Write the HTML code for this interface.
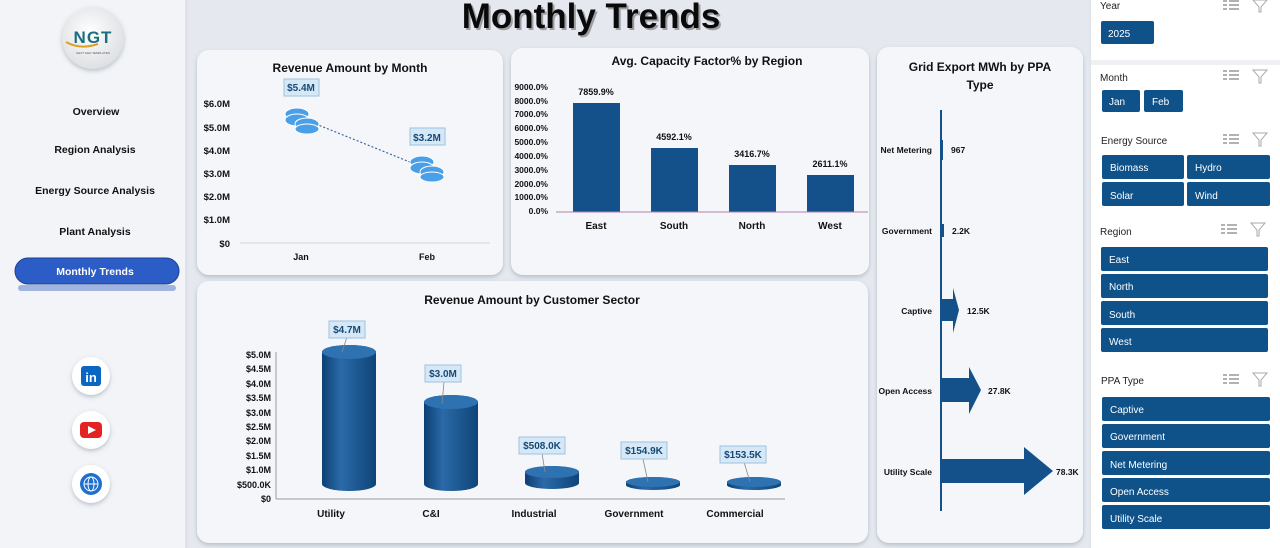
<!DOCTYPE html>
<html><head><meta charset="utf-8"><style>
html,body{margin:0;padding:0;width:1280px;height:548px;overflow:hidden;background:#e5e9ef;}
svg{display:block;font-family:"Liberation Sans",sans-serif;}
</style></head><body>
<svg width="1280" height="548" viewBox="0 0 1280 548" xmlns="http://www.w3.org/2000/svg">
<defs>
<linearGradient id="cyl" x1="0" x2="1" y1="0" y2="0">
<stop offset="0" stop-color="#0d3f73"/><stop offset="0.35" stop-color="#2a6aa8"/><stop offset="1" stop-color="#0f4478"/></linearGradient>
<radialGradient id="logo" cx="0.45" cy="0.4" r="0.7"><stop offset="0" stop-color="#ffffff"/><stop offset="1" stop-color="#d8dade"/></radialGradient>
<filter id="sh" x="-20%" y="-20%" width="140%" height="140%"><feDropShadow dx="0" dy="2" stdDeviation="2" flood-color="#8090a0" flood-opacity="0.5"/></filter>
</defs>
<!-- sidebar -->
<rect x="0" y="0" width="187" height="548" fill="#f2f4f7"/>
<rect x="185" y="0" width="3" height="548" fill="#dfe3e9"/>
<circle cx="93" cy="38" r="31" fill="url(#logo)" filter="url(#sh)"/>
<text x="93" y="43" text-anchor="middle" font-size="17" font-weight="bold" fill="#1b6f80" letter-spacing="1">NGT</text>
<path d="M66 42 Q80 50 98 44" stroke="#e0a020" stroke-width="2" fill="none"/>
<text x="93" y="54" text-anchor="middle" font-size="3" fill="#555">NEXT GEN TEMPLATES</text>
<g font-size="10.5" font-weight="bold" fill="#111" text-anchor="middle">
<text x="96" y="115">Overview</text>
<text x="95" y="153">Region Analysis</text>
<text x="95" y="194">Energy Source Analysis</text>
<text x="95" y="235">Plant  Analysis</text>
</g>
<rect x="18" y="285" width="158" height="6" rx="3" fill="#9fb5e0"/>
<rect x="15" y="258" width="164" height="26" rx="13" fill="#2c5cc5" stroke="#1b3f95"/>
<text x="95" y="275" text-anchor="middle" font-size="10.5" font-weight="bold" fill="#fff">Monthly Trends</text>
<g filter="url(#sh)">
<circle cx="91" cy="376" r="19" fill="#fff"/><circle cx="91" cy="430" r="19" fill="#fff"/><circle cx="91" cy="484" r="19" fill="#fff"/></g>
<rect x="81" y="366" width="20" height="20" rx="3" fill="#0a66c2"/>
<text x="91" y="382" text-anchor="middle" font-size="13" font-weight="bold" fill="#fff">in</text>
<rect x="80" y="422" width="22" height="16" rx="4" fill="#e52222"/>
<path d="M88 426 L96 430 L88 434Z" fill="#fff"/>
<circle cx="91" cy="484" r="11" fill="#1e6fd0"/>
<g stroke="#fff" stroke-width="1" fill="none"><circle cx="91" cy="484" r="7"/><ellipse cx="91" cy="484" rx="3" ry="7"/><line x1="84" y1="484" x2="98" y2="484"/></g>
<!-- title -->
<text x="593" y="30" text-anchor="middle" font-size="35" font-weight="bold" fill="#555" opacity="0.5">Monthly Trends</text>
<text x="591" y="28" text-anchor="middle" font-size="35" font-weight="bold" fill="#0a0a0a">Monthly Trends</text>
<!-- cards -->
<g fill="#f4f6f9" filter="url(#sh)">
<rect x="197" y="50" width="306" height="225" rx="12"/>
<rect x="511" y="48" width="358" height="227" rx="12"/>
<rect x="197" y="281" width="671" height="262" rx="12"/>
<rect x="877" y="47" width="206" height="496" rx="12"/>
</g>
<!-- chart1 -->
<text x="350" y="72" text-anchor="middle" font-size="12" font-weight="bold" fill="#111">Revenue Amount by Month</text>
<g font-size="9.5" font-weight="bold" fill="#111" text-anchor="end">
<text x="230" y="107">$6.0M</text><text x="230" y="131">$5.0M</text><text x="230" y="154">$4.0M</text><text x="230" y="177">$3.0M</text><text x="230" y="200">$2.0M</text><text x="230" y="223">$1.0M</text><text x="230" y="247">$0</text></g>
<line x1="240" y1="243" x2="490" y2="243" stroke="#d0d4da"/>
<g font-size="9" font-weight="bold" fill="#111" text-anchor="middle"><text x="301" y="260">Jan</text><text x="427" y="260">Feb</text></g>
<line x1="301" y1="118" x2="427" y2="169" stroke="#2a5a9a" stroke-dasharray="2 2"/>
<g fill="#4aa0e8" stroke="#fff" stroke-width="1">
<ellipse cx="297" cy="114" rx="12" ry="6"/><ellipse cx="297" cy="120" rx="12" ry="6"/><ellipse cx="307" cy="124" rx="12" ry="6"/><ellipse cx="307" cy="129" rx="12" ry="5"/>
<ellipse cx="422" cy="162" rx="12" ry="6"/><ellipse cx="422" cy="168" rx="12" ry="6"/><ellipse cx="432" cy="172" rx="12" ry="6"/><ellipse cx="432" cy="177" rx="12" ry="5"/></g>
<rect x="284" y="79" width="35" height="17" fill="#d6e8f6" stroke="#9ec3e3"/>
<text x="301" y="91" text-anchor="middle" font-size="10" font-weight="bold" fill="#164a78">$5.4M</text>
<rect x="410" y="128" width="35" height="17" fill="#d6e8f6" stroke="#9ec3e3"/>
<text x="427" y="141" text-anchor="middle" font-size="10" font-weight="bold" fill="#164a78">$3.2M</text>
<!-- chart2 -->
<text x="707" y="65" text-anchor="middle" font-size="12" font-weight="bold" fill="#111">Avg. Capacity Factor% by Region</text>
<g font-size="8.5" font-weight="bold" fill="#111" text-anchor="end">
<text x="548" y="90">9000.0%</text><text x="548" y="104">8000.0%</text><text x="548" y="117">7000.0%</text><text x="548" y="131">6000.0%</text><text x="548" y="145">5000.0%</text><text x="548" y="159">4000.0%</text><text x="548" y="173">3000.0%</text><text x="548" y="187">2000.0%</text><text x="548" y="200">1000.0%</text><text x="548" y="214">0.0%</text></g>
<g fill="#14508a"><rect x="573" y="103" width="47" height="109"/><rect x="651" y="148" width="47" height="64"/><rect x="729" y="165" width="47" height="47"/><rect x="807" y="175" width="47" height="37"/></g>
<line x1="556" y1="212" x2="868" y2="212" stroke="#b080b0"/>
<g font-size="9" font-weight="bold" fill="#111" text-anchor="middle">
<text x="596" y="95">7859.9%</text><text x="674" y="140">4592.1%</text><text x="752" y="157">3416.7%</text><text x="830" y="167">2611.1%</text>
<text x="596" y="229" font-size="10">East</text><text x="674" y="229" font-size="10">South</text><text x="752" y="229" font-size="10">North</text><text x="830" y="229" font-size="10">West</text></g>
<!-- chart3 -->
<text x="532" y="304" text-anchor="middle" font-size="12" font-weight="bold" fill="#111">Revenue Amount by Customer Sector</text>
<g font-size="9" font-weight="bold" fill="#111" text-anchor="end">
<text x="271" y="358">$5.0M</text><text x="271" y="372">$4.5M</text><text x="271" y="387">$4.0M</text><text x="271" y="401">$3.5M</text><text x="271" y="416">$3.0M</text><text x="271" y="430">$2.5M</text><text x="271" y="444">$2.0M</text><text x="271" y="459">$1.5M</text><text x="271" y="473">$1.0M</text><text x="271" y="488">$500.0K</text><text x="271" y="502">$0</text></g>
<line x1="276" y1="352" x2="276" y2="499" stroke="#999"/>
<line x1="276" y1="499" x2="785" y2="499" stroke="#999"/>
<g fill="url(#cyl)">
<path d="M322 352 A27 7 0 0 1 376 352 L376 484 A27 7 0 0 1 322 484Z"/><ellipse cx="349" cy="352" rx="27" ry="7" fill="#2e72b2"/>
<path d="M424 402 A27 7 0 0 1 478 402 L478 484 A27 7 0 0 1 424 484Z"/><ellipse cx="451" cy="402" rx="27" ry="7" fill="#2e72b2"/>
<path d="M525 472 A27 6 0 0 1 579 472 L579 483 A27 6 0 0 1 525 483Z"/><ellipse cx="552" cy="472" rx="27" ry="6" fill="#2e72b2"/>
<path d="M626 482 A27 5 0 0 1 680 482 L680 485 A27 5 0 0 1 626 485Z"/><ellipse cx="653" cy="482" rx="27" ry="5" fill="#2e72b2"/>
<path d="M727 482 A27 5 0 0 1 781 482 L781 485 A27 5 0 0 1 727 485Z"/><ellipse cx="754" cy="482" rx="27" ry="5" fill="#2e72b2"/>
</g>
<g stroke="#888" stroke-width="0.8"><line x1="347" y1="337" x2="342" y2="352"/><line x1="444" y1="382" x2="442" y2="404"/><line x1="542" y1="453" x2="545" y2="472"/><line x1="643" y1="459" x2="648" y2="482"/><line x1="744" y1="462" x2="750" y2="482"/></g>
<g fill="#d6e8f6" stroke="#9ec3e3"><rect x="329" y="321" width="36" height="17"/><rect x="425" y="365" width="36" height="17"/><rect x="519" y="437" width="46" height="17"/><rect x="621" y="442" width="46" height="17"/><rect x="720" y="446" width="46" height="17"/></g>
<g font-size="10" font-weight="bold" fill="#164a78" text-anchor="middle">
<text x="347" y="333">$4.7M</text><text x="443" y="377">$3.0M</text><text x="542" y="449">$508.0K</text><text x="644" y="454">$154.9K</text><text x="743" y="458">$153.5K</text></g>
<g font-size="10" font-weight="bold" fill="#111" text-anchor="middle">
<text x="331" y="517">Utility</text><text x="431" y="517">C&amp;I</text><text x="534" y="517">Industrial</text><text x="634" y="517">Government</text><text x="735" y="517">Commercial</text></g>
<!-- chart4 -->
<text x="980" y="71" text-anchor="middle" font-size="12" font-weight="bold" fill="#111">Grid Export MWh by PPA</text>
<text x="980" y="89" text-anchor="middle" font-size="12" font-weight="bold" fill="#111">Type</text>
<line x1="941" y1="110" x2="941" y2="511" stroke="#14508a" stroke-width="2"/>
<g font-size="8.5" font-weight="bold" fill="#111" text-anchor="end">
<text x="932" y="153">Net Metering</text><text x="932" y="234">Government</text><text x="932" y="314">Captive</text><text x="932" y="394">Open Access</text><text x="932" y="475">Utility Scale</text></g>
<g fill="#14508a">
<path d="M941 140 L943 140 L943 160 L941 160Z"/>
<path d="M941 224 L944 224 L944 237 L941 237Z"/>
<path d="M941 299 L953 299 L953 288 L959 310 L953 333 L953 321 L941 321Z"/>
<path d="M941 378 L969 378 L969 367 L981 390 L969 414 L969 402 L941 402Z"/>
<path d="M941 459 L1024 459 L1024 447 L1053 471 L1024 495 L1024 483 L941 483Z"/></g>
<g font-size="8.5" font-weight="bold" fill="#111">
<text x="951" y="153">967</text><text x="952" y="234">2.2K</text><text x="967" y="314">12.5K</text><text x="988" y="394">27.8K</text><text x="1056" y="475">78.3K</text></g>
<!-- right panel -->
<rect x="1089" y="0" width="191" height="548" fill="#ffffff"/>
<rect x="1089" y="60" width="191" height="5" fill="#eef0f3"/>
<rect x="1089" y="0" width="2" height="548" fill="#e2e5ea"/>
<g font-size="10" fill="#222">
<text x="1100" y="9">Year</text><text x="1100" y="81">Month</text><text x="1101" y="144">Energy Source</text><text x="1100" y="235">Region</text><text x="1101" y="384">PPA Type</text></g>
<g stroke="#666" stroke-width="1" fill="none">
<path d="M1223 1 h4 M1229 1 h10 M1223 5 h4 M1229 5 h10 M1223 9 h4 M1229 9 h10"/>
<path d="M1223 71 h4 M1229 71 h10 M1223 75 h4 M1229 75 h10 M1223 79 h4 M1229 79 h10"/>
<path d="M1223 135 h4 M1229 135 h10 M1223 139 h4 M1229 139 h10 M1223 143 h4 M1229 143 h10"/>
<path d="M1221 225 h4 M1227 225 h10 M1221 229 h4 M1227 229 h10 M1221 233 h4 M1227 233 h10"/>
<path d="M1223 375 h4 M1229 375 h10 M1223 379 h4 M1229 379 h10 M1223 383 h4 M1229 383 h10"/>
<path d="M1253 0 L1267 0 L1261 7 L1261 12 L1259 12 L1259 7Z" stroke="#aaa"/>
<path d="M1253 70 L1267 70 L1261 77 L1261 83 L1259 83 L1259 77Z" stroke="#aaa"/>
<path d="M1253 133 L1267 133 L1261 140 L1261 146 L1259 146 L1259 140Z" stroke="#aaa"/>
<path d="M1251 223 L1265 223 L1259 230 L1259 236 L1257 236 L1257 230Z" stroke="#aaa"/>
<path d="M1253 373 L1267 373 L1261 380 L1261 386 L1259 386 L1259 380Z" stroke="#aaa"/>
</g>
<g fill="#0f528a">
<rect x="1101" y="21" width="53" height="23" rx="2"/>
<rect x="1102" y="90" width="38" height="22" rx="2"/><rect x="1144" y="90" width="39" height="22" rx="2"/>
<rect x="1102" y="155" width="82" height="24" rx="2"/><rect x="1187" y="155" width="83" height="24" rx="2"/>
<rect x="1102" y="182" width="82" height="24" rx="2"/><rect x="1187" y="182" width="83" height="24" rx="2"/>
<rect x="1101" y="247" width="167" height="24" rx="2"/><rect x="1101" y="274" width="167" height="24" rx="2"/><rect x="1101" y="301" width="167" height="24" rx="2"/><rect x="1101" y="328" width="167" height="24" rx="2"/>
<rect x="1102" y="397" width="168" height="24" rx="2"/><rect x="1102" y="424" width="168" height="24" rx="2"/><rect x="1102" y="451" width="168" height="24" rx="2"/><rect x="1102" y="478" width="168" height="24" rx="2"/><rect x="1102" y="505" width="168" height="24" rx="2"/>
</g>
<g font-size="10" fill="#fff">
<text x="1108" y="37">2025</text>
<text x="1109" y="105">Jan</text><text x="1152" y="105">Feb</text>
<text x="1110" y="171">Biomass</text><text x="1195" y="171">Hydro</text><text x="1110" y="199">Solar</text><text x="1195" y="199">Wind</text>
<text x="1109" y="263">East</text><text x="1109" y="290">North</text><text x="1109" y="318">South</text><text x="1109" y="345">West</text>
<text x="1110" y="413">Captive</text><text x="1110" y="440">Government</text><text x="1110" y="468">Net Metering</text><text x="1110" y="495">Open Access</text><text x="1110" y="522">Utility Scale</text>
</g>
</svg>
</body></html>
